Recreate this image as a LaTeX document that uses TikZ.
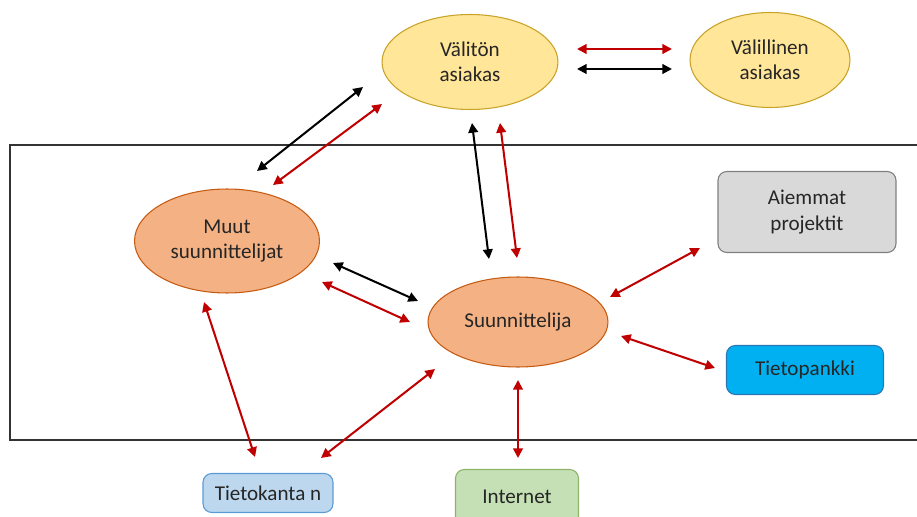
\documentclass[tikz,border=0pt]{standalone}
\usepackage{fontspec}
\setmainfont{Carlito}
\usetikzlibrary{shapes.geometric,arrows.meta}
\definecolor{keltainen}{HTML}{FFE699}
\definecolor{kultareuna}{HTML}{C9A227}
\definecolor{oranssi}{HTML}{F4B183}
\definecolor{oranssireuna}{HTML}{C55A11}
\definecolor{harmaa}{HTML}{D9D9D9}
\definecolor{harmaareuna}{HTML}{7F7F7F}
\definecolor{sininen}{HTML}{00B0F0}
\definecolor{sininenreuna}{HTML}{2E75B6}
\definecolor{vaaleansin}{HTML}{BDD7EE}
\definecolor{vaaleansinreuna}{HTML}{5B9BD5}
\definecolor{vihrea}{HTML}{C5E0B4}
\definecolor{vihreareuna}{HTML}{8DB36B}
\definecolor{punainen}{HTML}{C00000}
\definecolor{teksti}{HTML}{262626}
\tikzset{
  pallo/.style={ellipse, draw=#1, line width=0.6pt, inner sep=0pt, align=center,
    text=teksti, font=\fontsize{12}{14.5}\selectfont},
  laatikko/.style={rectangle, rounded corners=5pt, draw=#1, line width=0.6pt,
    inner sep=0pt, align=center, text=teksti, font=\fontsize{12}{14.5}\selectfont},
  nuoli/.style={{Triangle[length=5.5pt,width=5.5pt]}-{Triangle[length=5.5pt,width=5.5pt]},
    line width=1.15pt, line cap=round},
  punanuoli/.style={nuoli, draw=punainen, fill=punainen},
  mustanuoli/.style={nuoli, draw=black, fill=black},
}
\begin{document}
\begin{tikzpicture}[x=0.02cm,y=-0.02cm]
  \useasboundingbox (0,0) rectangle (917,517);
  % kehys
  \draw[line width=1.5pt, draw=black!80] (930,145) -- (10,145) -- (10,440) -- (930,440);
  % solmut
  \node[pallo=kultareuna, fill=keltainen, minimum width=3.52cm, minimum height=1.9cm] (valiton) at (470,62) {Välitön\\asiakas};
  \node[pallo=kultareuna, fill=keltainen, minimum width=3.2cm, minimum height=1.9cm] (valillinen) at (770,60) {Välillinen\\asiakas};
  \node[pallo=oranssireuna, fill=oranssi, minimum width=3.7cm, minimum height=2.08cm] (muut) at (227,241) {Muut\\suunnittelijat};
  \node[pallo=oranssireuna, fill=oranssi, minimum width=3.6cm, minimum height=1.8cm] (suun) at (518,322) {Suunnittelija};
  \node[laatikko=harmaareuna, fill=harmaa, minimum width=3.56cm, minimum height=1.62cm] (aiemmat) at (807,212) {Aiemmat\\projektit};
  \node[laatikko=sininenreuna, fill=sininen, minimum width=3.14cm, minimum height=0.98cm] (pankki) at (805,370) {Tietopankki};
  \node[laatikko=vaaleansinreuna, fill=vaaleansin, minimum width=2.6cm, minimum height=0.78cm] (kanta) at (268,493) {Tietokanta n};
  \node[laatikko=vihreareuna, fill=vihrea, minimum width=2.46cm, minimum height=1.3cm] (netti) at (517,502) {};
  \node[text=teksti, font=\fontsize{12}{14.5}\selectfont] (nettiteksti) at (517,497) {Internet};
  % nuolten päät
  \coordinate (vv1) at (577,49);   \coordinate (vv2) at (672,49);
  \coordinate (vv3) at (577,69);   \coordinate (vv4) at (672,69);
  \coordinate (mv1) at (257,171);  \coordinate (mv2) at (363,87);
  \coordinate (mv3) at (273,185);  \coordinate (mv4) at (382,104);
  \coordinate (vs1) at (472,123);  \coordinate (vs2) at (489,259);
  \coordinate (vs3) at (500,123);  \coordinate (vs4) at (517,258);
  \coordinate (ms1) at (333,263);  \coordinate (ms2) at (418,301);
  \coordinate (ms3) at (322,282);  \coordinate (ms4) at (410,322);
  \coordinate (mk1) at (204,302);  \coordinate (mk2) at (255,457);
  \coordinate (sk1) at (435,369);  \coordinate (sk2) at (321,458);
  \coordinate (si1) at (518,380);  \coordinate (si2) at (518,458);
  \coordinate (sa1) at (610,297);  \coordinate (sa2) at (700,248);
  \coordinate (sp1) at (621,336);  \coordinate (sp2) at (715,368);
  % nuolet
  \draw[punanuoli] (vv1) -- (vv2);
  \draw[mustanuoli] (vv3) -- (vv4);
  \draw[mustanuoli] (mv1) -- (mv2);
  \draw[punanuoli] (mv3) -- (mv4);
  \draw[mustanuoli] (vs1) -- (vs2);
  \draw[punanuoli] (vs3) -- (vs4);
  \draw[mustanuoli] (ms1) -- (ms2);
  \draw[punanuoli] (ms3) -- (ms4);
  \draw[punanuoli] (mk1) -- (mk2);
  \draw[punanuoli] (sk1) -- (sk2);
  \draw[punanuoli] (si1) -- (si2);
  \draw[punanuoli] (sa1) -- (sa2);
  \draw[punanuoli] (sp1) -- (sp2);
\end{tikzpicture}
\end{document}
